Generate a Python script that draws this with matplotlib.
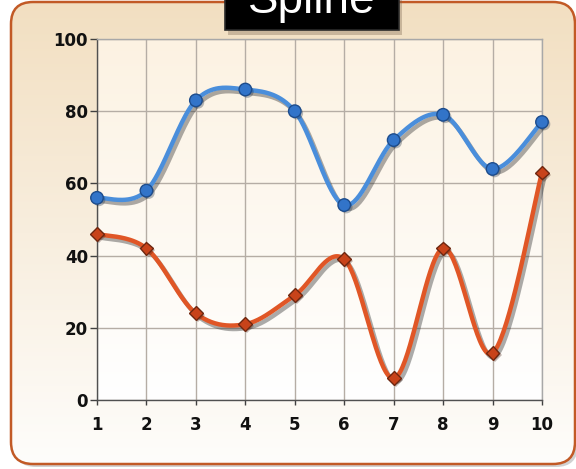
import numpy as np
import matplotlib
matplotlib.use("Agg")
import matplotlib.pyplot as plt
import matplotlib.patheffects as pe
from matplotlib.patches import FancyBboxPatch, Rectangle

# chart values
x_values = [1, 2, 3, 4, 5, 6, 7, 8, 9, 10]
blue_series = [56, 58, 83, 86, 80, 54, 72, 79, 64, 77]
red_series = [46, 42, 24, 21, 29, 39, 6, 42, 13, 63]
y_ticks = [0, 20, 40, 60, 80, 100]
title = "Spline"

W, H = 576, 469


def spline(xs, ys, n=40):
    # Catmull-Rom through the points, end points duplicated
    xs = np.asarray(xs, float)
    ys = np.asarray(ys, float)
    px = np.concatenate([[xs[0]], xs, [xs[-1]]])
    py = np.concatenate([[ys[0]], ys, [ys[-1]]])
    out_x, out_y = [], []
    for i in range(1, len(px) - 2):
        t = np.linspace(0, 1, n)
        h00 = 2 * t**3 - 3 * t**2 + 1
        h10 = t**3 - 2 * t**2 + t
        h01 = -2 * t**3 + 3 * t**2
        h11 = t**3 - t**2
        mx0 = (px[i + 1] - px[i - 1]) / 2
        mx1 = (px[i + 2] - px[i]) / 2
        my0 = (py[i + 1] - py[i - 1]) / 2
        my1 = (py[i + 2] - py[i]) / 2
        out_x.append(h00 * px[i] + h10 * mx0 + h01 * px[i + 1] + h11 * mx1)
        out_y.append(h00 * py[i] + h10 * my0 + h01 * py[i + 1] + h11 * my1)
    return np.concatenate(out_x), np.concatenate(out_y)


fig = plt.figure(figsize=(W / 100, H / 100), dpi=100)
fig.patch.set_facecolor("white")

# background panel in pixel coordinates
bg = fig.add_axes([0, 0, 1, 1])
bg.set_xlim(0, W)
bg.set_ylim(0, H)
bg.axis("off")

shadow = FancyBboxPatch((14, 2), 564, 460, boxstyle="round,pad=0,rounding_size=22",
                        facecolor="#9a9a9a", edgecolor="none", alpha=0.45, zorder=0)
bg.add_patch(shadow)
panel = FancyBboxPatch((11, 5), 564, 462, boxstyle="round,pad=0,rounding_size=22",
                       facecolor="none", edgecolor="#c25a26", linewidth=1.8, zorder=3)
bg.add_patch(panel)
grad = np.linspace(0, 1, 256).reshape(-1, 1)
top_c = np.array([242, 223, 193]) / 255
bot_c = np.array([254, 253, 251]) / 255
img = top_c * (1 - grad[..., None]) + bot_c * grad[..., None]
img = np.repeat(img, 2, axis=1)
im = bg.imshow(img, extent=[11, 575, 5, 467], origin="upper", aspect="auto", zorder=1)
im.set_clip_path(FancyBboxPatch((11, 5), 564, 462, boxstyle="round,pad=0,rounding_size=22",
                                transform=bg.transData))

# title box, text cut by the top edge like the original
bg.add_patch(Rectangle((228, 434), 174, 50, facecolor="#7a6550", alpha=0.35,
                       edgecolor="none", zorder=4))
bg.add_patch(Rectangle((225, 439), 174, 45, facecolor="#000000", edgecolor="#2a2a2a",
                       linewidth=1.2, zorder=5))
bg.text(312, 456.5, title, ha="center", va="baseline", color="white",
        fontsize=33, family="Liberation Sans", zorder=6)

# plot area
ax = fig.add_axes([97 / W, 69 / H, 445 / W, 361 / H])
ax.patch.set_visible(False)
ax.set_xlim(1, 10)
ax.set_ylim(0, 100)
pa_top = np.array([252, 242, 226]) / 255
pa_bot = np.array([255, 255, 255]) / 255
img2 = pa_top * (1 - grad[..., None]) + pa_bot * grad[..., None]
img2 = np.repeat(img2, 2, axis=1)
ax.imshow(img2, extent=[1, 10, 0, 100], origin="upper", aspect="auto", zorder=0)

ax.set_xticks(x_values)
ax.set_yticks(y_ticks)
ax.grid(True, color="#b5ada5", linewidth=1.0, zorder=1)
ax.set_axisbelow(True)
for s in ["left", "bottom"]:
    ax.spines[s].set_color("#505050")
    ax.spines[s].set_linewidth(1.0)
for s in ["top", "right"]:
    ax.spines[s].set_color("#a8a8a8")
    ax.spines[s].set_linewidth(1.0)
ax.tick_params(axis="y", length=5, width=1, color="#404040", pad=1.5,
               labelsize=12, labelcolor="#111111")
ax.tick_params(axis="x", length=3.5, width=1, color="#404040", pad=8,
               labelsize=12, labelcolor="#111111")
for lab in ax.get_xticklabels() + ax.get_yticklabels():
    lab.set_fontweight("bold")

shadow_fx = [pe.SimpleLineShadow(offset=(2, -2.5), shadow_color="#303030", alpha=0.4),
             pe.Normal()]

bx, by = spline(x_values, blue_series)
ax.plot(bx, by, color="#4a8edb", linewidth=3.2, solid_capstyle="round",
        path_effects=shadow_fx, zorder=3, clip_on=False)
ax.plot(x_values, blue_series, linestyle="none", marker="o", markersize=9,
        markerfacecolor="#3274c9", markeredgecolor="#1d4c8c", markeredgewidth=1.0,
        zorder=4, clip_on=False,
        path_effects=[pe.SimplePatchShadow(offset=(1.5, -1.5), alpha=0.3), pe.Normal()])

rx, ry = spline(x_values, red_series)
ax.plot(rx, ry, color="#e05626", linewidth=3.2, solid_capstyle="round",
        path_effects=shadow_fx, zorder=3, clip_on=False)
ax.plot(x_values, red_series, linestyle="none", marker="D", markersize=7,
        markerfacecolor="#c8431a", markeredgecolor="#6e2710", markeredgewidth=1.0,
        zorder=4, clip_on=False,
        path_effects=[pe.SimplePatchShadow(offset=(1.5, -1.5), alpha=0.3), pe.Normal()])

fig.savefig("out.png", dpi=100)
